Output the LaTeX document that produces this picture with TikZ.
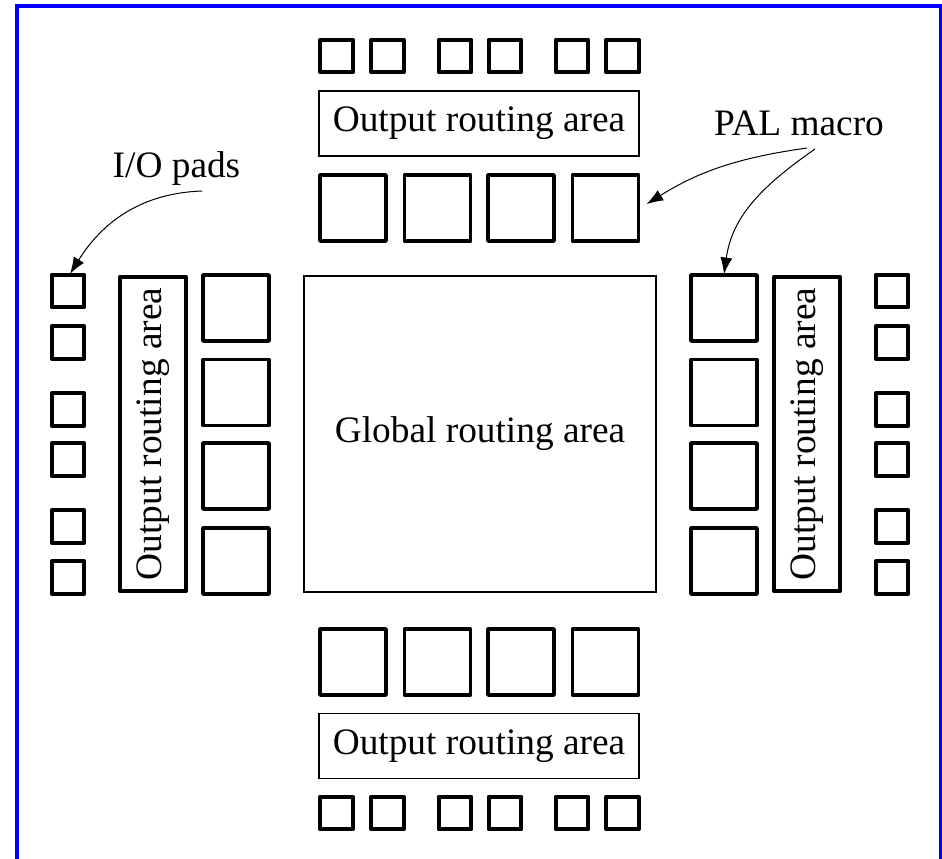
\documentclass[tikz,border=0pt]{standalone}
\usepackage{fontspec}
\setmainfont{Liberation Serif}
\usetikzlibrary{arrows.meta}

\tikzset{
  lbl/.style={font=\fontsize{28}{34}\selectfont, inner sep=0pt},
  pad/.style={draw, line width=2.8pt, line join=round, inner sep=0pt,
              minimum width=24.5pt, minimum height=24.5pt},
  palbox/.style={draw, line width=2.8pt, line join=round, inner sep=0pt,
                 minimum width=49.5pt, minimum height=49.5pt},
  hroute/.style={draw, line width=1.3pt, inner sep=0pt, lbl,
                 minimum width=240pt, minimum height=48.75pt},
  vroute/.style={draw, line width=2.8pt, line join=round, inner sep=0pt, lbl,
                 minimum width=236pt, minimum height=49.5pt, rotate=90},
  groute/.style={draw, line width=1.3pt, inner sep=0pt, lbl,
                 minimum width=264pt, minimum height=237pt},
  pointer/.style={line width=0.75pt, -{Latex[length=12.5pt,width=9pt]}},
}

\begin{document}
\begin{tikzpicture}[x=0.75pt, y=-0.75pt]
\useasboundingbox (0,0) rectangle (942,858);

% frame, open at the bottom
\draw[blue, line width=3pt] (17,870) -- (17,6) -- (941,6) -- (941,870);

% central routing area
\node[groute] (glob) at (480,434) {Global routing area};

% output routing areas
\node[hroute] (routeT) at (479,123.5) {Output routing area};
\node[hroute] (routeB) at (479,746) {Output routing area};
\node[vroute] (routeL) at (153,434) {Output routing area};
\node[vroute] (routeR) at (807,434) {Output routing area};

% PAL macros
\foreach \i/\x in {1/353,2/437.5,3/521,4/605.5} {
  \node[palbox] (palT\i) at (\x,208) {};
  \node[palbox] (palB\i) at (\x,662) {};
}
\foreach \i/\y in {1/308,2/392.5,3/476,4/561} {
  \node[palbox] (palL\i) at (236,\y) {};
  \node[palbox] (palR\i) at (724,\y) {};
}

% I/O pads
\foreach \i/\x in {1/336.5,2/387.5,3/455,4/505,5/572,6/622.5} {
  \node[pad] (padT\i) at (\x,56) {};
  \node[pad] (padB\i) at (\x,813) {};
}
\foreach \i/\y in {1/291,2/342.5,3/409.5,4/459.5,5/526.5,6/577.5} {
  \node[pad] (padL\i) at (68,\y) {};
  \node[pad] (padR\i) at (892,\y) {};
}

% labels and pointers
\node[lbl, anchor=base] (iolbl) at (176.5,177) {I/O pads};
\node[lbl, anchor=base] (pallbl) at (799,135) {PAL macro};

\coordinate (iofrom) at (202,191);
\coordinate (palfromA) at (807,148);
\coordinate (palfromB) at (815,149);

\draw[pointer] (iofrom) to[out=182, in=58] ([xshift=1.5pt,yshift=-0.8pt]padL1.north);
\draw[pointer, shorten >=5.5pt] (palfromA) to[out=188, in=32] (palT4.east);
\draw[pointer] (palfromB) to[out=215, in=82] ([yshift=-0.8pt]palR1.north);
\end{tikzpicture}
\end{document}
